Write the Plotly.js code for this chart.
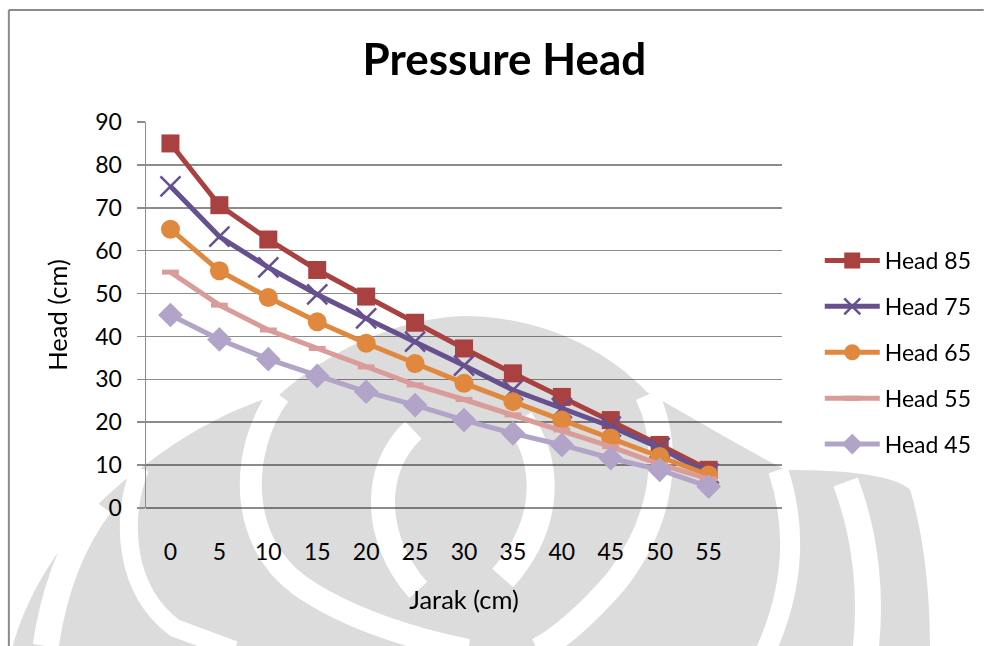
<!DOCTYPE html>
<html><head><meta charset="utf-8">
<script src="https://cdn.plot.ly/plotly-3.0.1.min.js"></script>
<style>html,body{margin:0;padding:0;background:#fff}#chart{width:989px;height:646px}
#chart .scatterlayer,#chart .gridlayer,#chart .zerolinelayer{mix-blend-mode:multiply}</style>
</head><body><div id="chart"></div>
<script>
// ---- data ----
const distances = ['0','5','10','15','20','25','30','35','40','45','50','55'];
const head85 = [85, 70.6, 62.6, 55.5, 49.3, 43.2, 37.2, 31.4, 25.9, 20.5, 14.7, 8.9];
const head75 = [75, 63.3, 56.1, 49.8, 44.2, 38.8, 33.2, 27.5, 23.3, 19.0, 14.0, 8.0];
const head65 = [65, 55.3, 49.1, 43.4, 38.4, 33.7, 29.1, 24.8, 20.5, 16.3, 12.0, 7.7];
const head55 = [55, 47.3, 41.5, 37.2, 32.9, 28.7, 25.3, 21.7, 18.2, 14.3, 10.2, 6.8];
const head45 = [45, 39.3, 34.7, 30.8, 27.1, 24.0, 20.5, 17.4, 14.7, 11.6, 8.9, 5.0];
const seriesNames = ['Head 85','Head 75','Head 65','Head 55','Head 45'];
const yTicks = [0,10,20,30,40,50,60,70,80,90];

// ---- geometry helpers (pixel -> paper) for decorations ----
const PL=146, PR=786, PT=122, PB=508;
function px(x){return (x-PL)/(PR-PL);}
function py(y){return (PB-y)/(PB-PT);}
function pathPx(s){
  const t=s.trim().split(/\s+/); let out=[]; let nums=[];
  for(const k of t){
    if(/^[A-Za-z]$/.test(k)){ out.push(k); }
    else { nums.push(parseFloat(k)); if(nums.length===2){ out.push(px(nums[0]).toFixed(4)+','+py(nums[1]).toFixed(4)); nums=[]; } }
  }
  return out.join(' ');
}
const wmGray='#dcdcdc';
const shapes=[];
// watermark base
shapes.push({type:'path',xref:'paper',yref:'paper',layer:'below',fillcolor:wmGray,line:{width:0},
  path:pathPx('M 12 646 C 30 580 80 510 145 465 C 190 430 240 405 280 395 C 330 350 400 318 465 316 C 530 316 600 340 650 392 C 700 420 750 450 790 470 C 850 470 900 475 915 490 C 930 540 935 600 935 646 Z')});
// white arcs
const arcs=[
  ['M 100 505 Q 58 560 45 646',26],
  ['M 140 468 C 120 520 124 590 175 628 L 235 650',18],
  ['M 280 395 C 240 450 238 540 300 585 C 350 620 420 640 470 650',22],
  ['M 415 430 C 372 470 375 540 420 590',24],
  ['M 522 420 C 556 470 548 530 505 578',28],
  ['M 650 395 C 676 450 666 520 620 580 C 590 615 560 640 540 650',24],
  ['M 782 470 C 802 530 797 590 770 650',20],
  ['M 850 482 C 872 540 876 600 870 650',26]
];
for(const a of arcs){
  shapes.push({type:'path',xref:'paper',yref:'paper',layer:'below',line:{color:'#ffffff',width:a[1]},path:pathPx(a[0])});
}
// outer frame (top and left edges)
shapes.push({type:'line',xref:'paper',yref:'paper',layer:'above',x0:px(8),y0:py(10),x1:px(989),y1:py(10),line:{color:'#8a8a8a',width:2}});
shapes.push({type:'line',xref:'paper',yref:'paper',layer:'above',x0:px(8),y0:py(10),x1:px(8),y1:py(646),line:{color:'#8a8a8a',width:2}});

const styles=[
  {line:'#A8413F', marker:{symbol:'square',size:18,color:'#A8413F'}},
  {line:'#67508E', marker:{symbol:'x-thin',size:20,color:'#67508E',line:{color:'#67508E',width:2.5}}},
  {line:'#E0893E', marker:{symbol:'circle',size:19,color:'#E0893E'}},
  {line:'#D99C99', marker:{symbol:'line-ew',size:12,color:'#D99C99',line:{color:'#D99C99',width:5}}},
  {line:'#B2A4C8', marker:{symbol:'diamond',size:19,color:'#B2A4C8'}}
];
const ys=[head85,head75,head65,head55,head45];
const data=ys.map((y,i)=>({
  type:'scatter',mode:'lines+markers',x:distances,y:y,name:seriesNames[i],
  legendgroup:'g'+i,
  line:{color:styles[i].line,width:5},
  marker:styles[i].marker
}));

const font='Lato, "Open Sans", sans-serif';
const layout={
  width:989,height:646,
  margin:{l:PL,r:989-PR,t:PT,b:646-PB},
  paper_bgcolor:'#ffffff',plot_bgcolor:'rgba(0,0,0,0)',
  font:{family:font,size:23,color:'#000'},
  title:{text:'<b>Pressure Head</b>',font:{family:font,size:44,color:'#000'},xref:'container',x:0.51,xanchor:'center',yref:'container',y:1-60/646,yanchor:'middle'},
  xaxis:{type:'category',range:[-0.5,12.5],showgrid:false,zeroline:false,showline:false,ticks:'',
    tickfont:{family:font,size:23,color:'#000'},ticklabelstandoff:28,
    title:{text:'Jarak (cm)',font:{family:font,size:25.5,color:'#000'},standoff:27}},
  yaxis:{range:[0,90],tickvals:yTicks,ticktext:yTicks.map(String),showgrid:true,gridcolor:'#8c8c8c',gridwidth:1.5,
    zeroline:true,zerolinecolor:'#8c8c8c',zerolinewidth:1.5,
    showline:true,linecolor:'#8c8c8c',linewidth:1.5,ticks:'outside',ticklen:8,tickcolor:'#8c8c8c',tickwidth:1.5,
    tickfont:{family:font,size:23,color:'#000'},ticklabelstandoff:10,
    title:{text:'Head (cm)',font:{family:font,size:25.5,color:'#000'},standoff:20}},
  showlegend:true,
  legend:{x:px(824),xanchor:'left',y:py(239),yanchor:'top',traceorder:'grouped',tracegroupgap:13,itemwidth:55,
    font:{family:font,size:23,color:'#000'},bgcolor:'rgba(0,0,0,0)'},
  shapes:shapes
};
Plotly.newPlot('chart',data,layout,{displayModeBar:false,staticPlot:true});
</script></body></html>
